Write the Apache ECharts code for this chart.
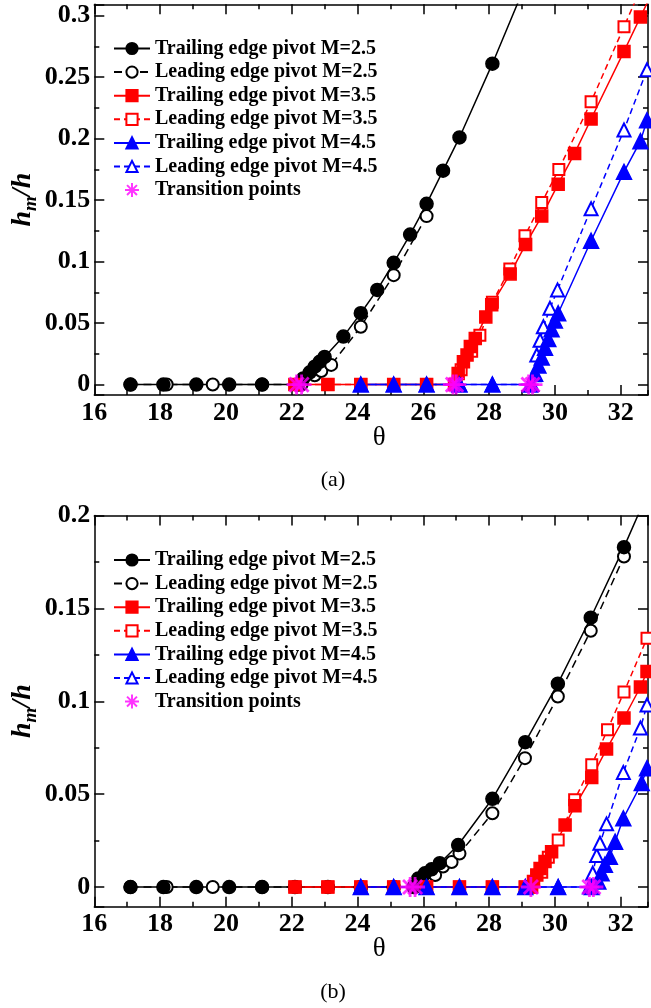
<!DOCTYPE html>
<html>
<head>
  <meta charset="utf-8">
  <title>hm/h vs theta</title>
  <script src="https://cdn.jsdelivr.net/npm/echarts@6/dist/echarts.min.js"></script>
  <style>
    body { margin: 0; background: #fff; }
    #chart { width: 651px; height: 1008px; }
  </style>
</head>
<body>
  <div id="chart"></div>
  <script>
    // datos: [theta, hm/h]
    // panel (a)
    const a_trail25 = [[17.1,0],[18.1,0],[19.1,0],[20.1,0],[21.1,0],[22.2,0],[22.35,0.005],[22.55,0.010],[22.7,0.0145],[22.85,0.0185],[23.0,0.0225],[23.57,0.039],[24.1,0.058],[24.6,0.077],[25.1,0.099],[25.6,0.122],[26.1,0.147],[26.6,0.174],[27.1,0.201],[28.1,0.261],[29.1,0.325]];
    const a_lead25 = [[17.1,0],[18.2,0],[19.6,0],[21.1,0],[22.3,0],[22.7,0.0075],[22.9,0.011],[23.2,0.016],[24.1,0.047],[25.1,0.089],[26.1,0.137]];
    const a_trail35 = [[22.1,0],[23.1,0],[24.1,0],[25.1,0],[26.1,0],[26.95,0],[27.06,0.009],[27.22,0.0185],[27.33,0.024],[27.43,0.031],[27.58,0.0375],[27.9,0.055],[28.08,0.065],[28.64,0.09],[29.11,0.114],[29.6,0.137],[30.1,0.163],[30.6,0.188],[31.1,0.216],[32.1,0.271],[32.6,0.299],[33.1,0.327]];
    const a_lead35 = [[22.1,0],[23.1,0],[24.1,0],[25.1,0],[26.1,0],[27.0,0],[27.15,0.012],[27.47,0.027],[27.72,0.040],[28.1,0.067],[28.63,0.094],[29.09,0.121],[29.6,0.148],[30.12,0.175],[31.1,0.23],[32.1,0.291],[33.1,0.352]];
    const a_trail45 = [[24.1,0],[25.1,0],[26.1,0],[27.1,0],[28.1,0],[29.25,0],[29.4,0.0087],[29.5,0.0155],[29.6,0.022],[29.7,0.030],[29.8,0.037],[29.9,0.045],[30.0,0.052],[30.1,0.058],[31.1,0.117],[32.1,0.173],[32.6,0.198],[32.8,0.215]];
    const a_lead45 = [[24.1,0],[25.1,0],[26.1,0],[27.1,0],[28.1,0],[29.3,0],[29.37,0.008],[29.45,0.024],[29.55,0.036],[29.65,0.047],[29.85,0.062],[30.08,0.077],[31.1,0.143],[32.1,0.207],[32.8,0.256]];
    const a_trans = [[22.15,0],[22.3,0],[26.9,0],[27.0,0],[29.2,0],[29.32,0]];

    // panel (b)
    const b_trail25 = [[17.1,0],[18.1,0],[19.1,0],[20.1,0],[21.1,0],[22.1,0],[23.1,0],[24.1,0],[25.1,0],[25.7,0],[25.85,0.0046],[26.05,0.0074],[26.25,0.0095],[26.5,0.0128],[27.06,0.0226],[28.1,0.0475],[29.1,0.078],[30.09,0.1095],[31.09,0.145],[32.1,0.183],[33.1,0.2235]];
    const b_lead25 = [[17.1,0],[18.2,0],[19.6,0],[21.1,0],[22.1,0],[23.1,0],[24.1,0],[25.1,0],[25.75,0],[26.36,0.0065],[26.6,0.011],[26.86,0.0135],[27.1,0.018],[28.1,0.0397],[29.09,0.0694],[30.09,0.1026],[31.09,0.138],[32.1,0.178]];
    const b_trail35 = [[22.1,0],[23.1,0],[24.1,0],[25.1,0],[26.1,0],[27.1,0],[28.1,0],[29.1,0],[29.27,0],[29.35,0.003],[29.45,0.0065],[29.55,0.010],[29.7,0.0137],[29.9,0.019],[30.31,0.0334],[30.61,0.0437],[31.12,0.059],[31.57,0.0743],[32.1,0.091],[32.6,0.1077],[32.8,0.116]];
    const b_lead35 = [[22.1,0],[23.1,0],[24.1,0],[25.1,0],[26.1,0],[27.1,0],[28.1,0],[29.1,0],[29.3,0],[29.6,0.008],[29.8,0.016],[30.1,0.0253],[30.6,0.047],[31.12,0.0658],[31.6,0.0847],[32.1,0.105],[32.8,0.134]];
    const b_trail45 = [[24.1,0],[25.1,0],[26.1,0],[27.1,0],[28.1,0],[29.1,0],[30.1,0],[31.12,0],[31.32,0.003],[31.42,0.0074],[31.52,0.012],[31.67,0.0163],[31.83,0.0244],[32.08,0.037],[32.64,0.056],[32.8,0.064]];
    const b_lead45 = [[24.1,0],[25.1,0],[26.1,0],[27.1,0],[28.1,0],[29.1,0],[30.1,0],[31.05,0],[31.15,0.0074],[31.27,0.017],[31.37,0.0236],[31.57,0.034],[32.08,0.0617],[32.6,0.0856],[32.8,0.098]];
    const b_trans = [[25.6,0],[25.75,0],[29.27,0],[31.05,0],[31.17,0]];

    const nombres = ['Trailing edge pivot M=2.5','Leading edge pivot M=2.5','Trailing edge pivot M=3.5','Leading edge pivot M=3.5','Trailing edge pivot M=4.5','Leading edge pivot M=4.5','Transition points'];
    const captions = ['(a)', '(b)'];

    const fuente = '"Liberation Serif", "Times New Roman", serif';
    const XMIN = 16, XMAX = 32.83;
    const yRangos = [[-0.0085, 0.3093], [-0.0106, 0.2]];
    // outerBoundsMode none: que la rejilla no se encoja por las etiquetas
    const grids = [
      { left: 94.3, right: 3, top: 4.3, height: 390.7, containLabel: false, outerBoundsMode: 'none' },
      { left: 94.3, right: 3, top: 515.6, height: 391.1, containLabel: false, outerBoundsMode: 'none' }
    ];

    // asterisco magenta (trazos gruesos)
    const asterisco = 'path://M8.6,0L11.4,0L11.4,20L8.6,20Z M0,8.6L20,8.6L20,11.4L0,11.4Z M1.9,3.9L3.9,1.9L18.1,16.1L16.1,18.1Z M16.1,1.9L18.1,3.9L3.9,18.1L1.9,16.1Z';

    function etiquetaY(v) {
      const k = v * 20;
      if (Math.abs(k - Math.round(k)) > 1e-6) return '';
      return String(Math.round(k) * 5 / 100);
    }

    let xAxes = [], yAxes = [];
    grids.forEach(function (g, gi) {
      const lineaEje = { show: true, onZero: false, lineStyle: { color: '#000', width: 1.5 } };
      const sinEje = { show: false, onZero: false };
      // eje x principal abajo
      xAxes.push({
        gridIndex: gi, type: 'value', position: 'bottom', min: XMIN, max: XMAX, interval: 2,
        axisLine: lineaEje,
        axisTick: { inside: true, length: 10, lineStyle: { color: '#000', width: 1.5 } },
        axisLabel: { showMaxLabel: false, margin: 5, color: '#000', fontFamily: fuente, fontWeight: 'bold', fontSize: 26,
          formatter: function (v) { return (Math.abs(v % 2) < 1e-6) ? String(v) : ''; } },
        splitLine: { show: false },
        name: 'θ', nameLocation: 'middle', nameGap: 29, nameMoveOverlap: false,
        nameTextStyle: { color: '#000', fontFamily: fuente, fontSize: 27, padding: [0, 0, 0, 16] }
      });
      xAxes.push({
        gridIndex: gi, type: 'value', position: 'bottom', min: XMIN, max: XMAX, interval: 1,
        axisLine: sinEje, axisTick: { inside: true, length: 5, lineStyle: { color: '#000', width: 1.5 } },
        axisLabel: { show: false }, splitLine: { show: false }
      });
      xAxes.push({
        gridIndex: gi, type: 'value', position: 'top', min: XMIN, max: XMAX, interval: 2,
        axisLine: lineaEje, axisTick: { inside: true, length: 10, lineStyle: { color: '#000', width: 1.5 } },
        axisLabel: { show: false }, splitLine: { show: false }
      });
      xAxes.push({
        gridIndex: gi, type: 'value', position: 'top', min: XMIN, max: XMAX, interval: 1,
        axisLine: sinEje, axisTick: { inside: true, length: 5, lineStyle: { color: '#000', width: 1.5 } },
        axisLabel: { show: false }, splitLine: { show: false }
      });

      const yr = yRangos[gi];
      yAxes.push({
        gridIndex: gi, type: 'value', position: 'left', min: yr[0], max: yr[1], minInterval: 0.05, maxInterval: 0.05, splitNumber: 6,
        axisLine: lineaEje,
        axisTick: { inside: true, length: 10, lineStyle: { color: '#000', width: 1.5 } },
        axisLabel: { margin: 4, color: '#000', fontFamily: fuente, fontWeight: 'bold', fontSize: 26, formatter: etiquetaY },
        splitLine: { show: false },
        name: '{i|h}{s|m}{i|/h}', nameLocation: 'middle', nameGap: 54, nameMoveOverlap: false,
        nameTextStyle: {
          color: '#000',
          rich: {
            i: { fontFamily: fuente, fontStyle: 'italic', fontWeight: 'bold', fontSize: 28, lineHeight: 36, color: '#000' },
            s: { fontFamily: fuente, fontStyle: 'italic', fontWeight: 'bold', fontSize: 19, lineHeight: 17, verticalAlign: 'bottom', color: '#000' }
          }
        }
      });
      yAxes.push({
        gridIndex: gi, type: 'value', position: 'left', min: yr[0], max: yr[1], minInterval: 0.025, maxInterval: 0.025, splitNumber: 12,
        axisLine: sinEje, axisTick: { inside: true, length: 5, lineStyle: { color: '#000', width: 1.5 } },
        axisLabel: { show: false }, splitLine: { show: false }
      });
      yAxes.push({
        gridIndex: gi, type: 'value', position: 'right', min: yr[0], max: yr[1], minInterval: 0.05, maxInterval: 0.05, splitNumber: 6,
        axisLine: lineaEje, axisTick: { inside: true, length: 10, lineStyle: { color: '#000', width: 1.5 } },
        axisLabel: { show: false }, splitLine: { show: false }
      });
      yAxes.push({
        gridIndex: gi, type: 'value', position: 'right', min: yr[0], max: yr[1], minInterval: 0.025, maxInterval: 0.025, splitNumber: 12,
        axisLine: sinEje, axisTick: { inside: true, length: 5, lineStyle: { color: '#000', width: 1.5 } },
        axisLabel: { show: false }, splitLine: { show: false }
      });
    });

    function linea(gi, name, data, color, symbol, size, dashed) {
      return {
        type: 'line', name: name, data: data,
        xAxisIndex: gi * 4, yAxisIndex: gi * 4,
        symbol: symbol, symbolSize: size, showSymbol: true,
        lineStyle: { color: color, width: 1.5, type: dashed ? dashed : 'solid' },
        itemStyle: { color: color, borderColor: color, borderWidth: 1.5 },
        clip: true, z: 2
      };
    }

    let series = [];
    const paneles = [
      [a_trail25, a_lead25, a_trail35, a_lead35, a_trail45, a_lead45, a_trans],
      [b_trail25, b_lead25, b_trail35, b_lead35, b_trail45, b_lead45, b_trans]
    ];
    paneles.forEach(function (p, gi) {
      series.push(linea(gi, nombres[1], p[1], '#000', 'emptyCircle', 12, [8, 5]));
      series.push(linea(gi, nombres[0], p[0], '#000', 'circle', 13, null));
      series.push(linea(gi, nombres[3], p[3], '#ff0000', 'emptyRect', 11, [6, 4]));
      series.push(linea(gi, nombres[2], p[2], '#ff0000', 'rect', 12, null));
      series.push(linea(gi, nombres[5], p[5], '#0000ff', 'emptyTriangle', 13, [6, 4]));
      series.push(linea(gi, nombres[4], p[4], '#0000ff', 'triangle', 15, null));
      series.push({
        type: 'scatter', name: nombres[6], data: p[6],
        xAxisIndex: gi * 4, yAxisIndex: gi * 4,
        symbol: asterisco, symbolSize: 20,
        itemStyle: { color: '#ff00ff' }, z: 5
      });
    });

    const leyenda = function (top) {
      return {
        orient: 'vertical', left: 108, top: top, data: nombres,
        itemWidth: 36, itemHeight: 14, itemGap: 3.6, selectedMode: false,
        textStyle: { color: '#000', fontFamily: fuente, fontWeight: 'bold', fontSize: 20, lineHeight: 20 }
      };
    };

    const chart = echarts.init(document.getElementById('chart'), null, { renderer: 'canvas' });
    chart.setOption({
      animation: false,
      backgroundColor: '#fff',
      grid: grids,
      xAxis: xAxes,
      yAxis: yAxes,
      legend: [leyenda(33.5), leyenda(545)],
      series: series,
      graphic: [
        { type: 'text', x: 333, y: 480, style: { text: captions[0], align: 'center', verticalAlign: 'middle', font: '22px ' + fuente, fill: '#000' } },
        { type: 'text', x: 333, y: 992, style: { text: captions[1], align: 'center', verticalAlign: 'middle', font: '22px ' + fuente, fill: '#000' } }
      ]
    });
  </script>
</body>
</html>
